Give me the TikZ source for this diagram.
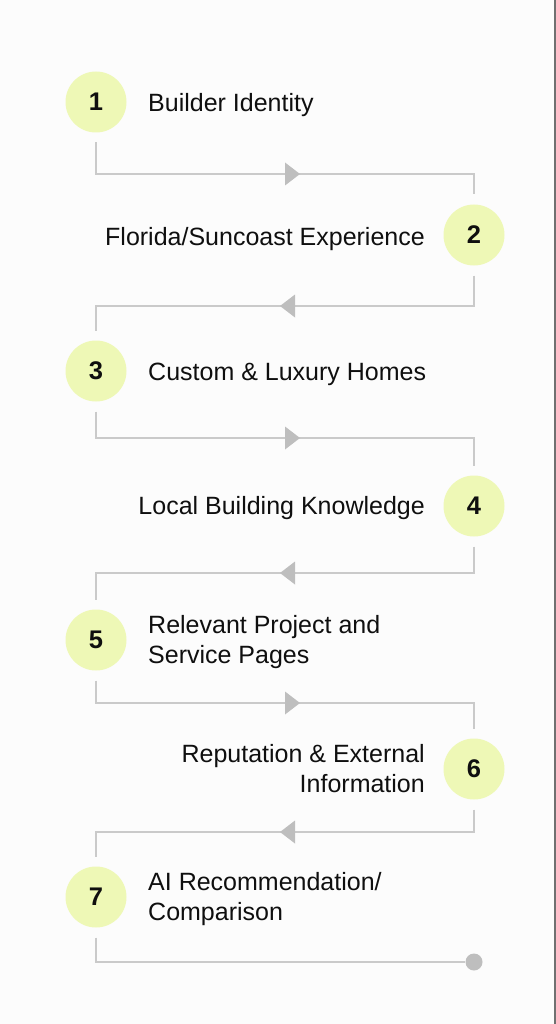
\documentclass[tikz,border=0pt]{standalone}
\usepackage{fontspec}
\setmainfont{Liberation Sans}
\definecolor{circfill}{RGB}{238,248,182}
\definecolor{linegray}{RGB}{202,202,202}
\definecolor{tipgray}{RGB}{190,190,190}
\definecolor{ink}{RGB}{15,15,15}
\definecolor{bgpaper}{RGB}{252,252,252}
\definecolor{edgegray}{RGB}{112,112,112}
\begin{document}
\begin{tikzpicture}[x=1pt,y=-1pt,
  stepcirc/.style={circle,fill=circfill,minimum size=61pt,inner sep=0pt,outer sep=10pt,
    font=\fontsize{25.5}{28}\selectfont\bfseries,text=ink},
  lbl/.style={inner sep=0pt,font=\fontsize{25}{30}\selectfont,text=ink,align=left},
  rlbl/.style={inner sep=0pt,font=\fontsize{25}{30}\selectfont,text=ink,align=right},
  conn/.style={draw=linegray,line width=1.8pt},
  tipfill/.style={fill=tipgray},
  enddot/.style={circle,fill=tipgray,minimum size=17pt,inner sep=0pt}]
\useasboundingbox (0,0) rectangle (556,1024);
\fill[bgpaper] (0,0) rectangle (556,1024);
\draw[edgegray,line width=1.6pt] (555.2,0) -- (555.2,1024);

% row levels
\coordinate (h1) at (0,174);
\coordinate (h2) at (0,306);
\coordinate (h3) at (0,438);
\coordinate (h4) at (0,573);
\coordinate (h5) at (0,703);
\coordinate (h6) at (0,832);
\coordinate (h7) at (0,962);

% circles
\node[stepcirc] (n1) at (96,102) {1};
\node[stepcirc] (n2) at (474,235) {2};
\node[stepcirc] (n3) at (96,371) {3};
\node[stepcirc] (n4) at (474,506) {4};
\node[stepcirc] (n5) at (96,640) {5};
\node[stepcirc] (n6) at (474,769) {6};
\node[stepcirc] (n7) at (96,897) {7};
\node[enddot] (end) at (474,962) {};

% labels
\node[lbl,anchor=base west] (t1) at (148,112) {Builder Identity};
\node[rlbl,anchor=base east] (t2) at (425,245) {Florida/Suncoast Experience};
\node[lbl,anchor=base west] (t3) at (148,380) {Custom \& Luxury Homes};
\node[rlbl,anchor=base east] (t4) at (425,514) {Local Building Knowledge};
\node[lbl,anchor=north west] (t5) at (148,615) {Relevant Project and\\Service Pages};
\node[rlbl,anchor=north east] (t6) at (425,744) {Reputation \& External\\Information};
\node[lbl,anchor=north west] (t7) at (148,872) {AI Recommendation/\\Comparison};

% connectors
\draw[conn] (n1.south) -- (n1.south |- h1) -| (n2.north);
\draw[conn] (n2.south) -- (n2.south |- h2) -| (n3.north);
\draw[conn] (n3.south) -- (n3.south |- h3) -| (n4.north);
\draw[conn] (n4.south) -- (n4.south |- h4) -| (n5.north);
\draw[conn] (n5.south) -- (n5.south |- h5) -| (n6.north);
\draw[conn] (n6.south) -- (n6.south |- h6) -| (n7.north);
\draw[conn] (n7.south) -- (n7.south |- h7) -- (end);

% direction marks
\fill[tipfill] (285,162.5) -- (300,174) -- (285,185.5) -- cycle;
\fill[tipfill] (295,294.5) -- (280,306) -- (295,317.5) -- cycle;
\fill[tipfill] (285,426.5) -- (300,438) -- (285,449.5) -- cycle;
\fill[tipfill] (295,561.5) -- (280,573) -- (295,584.5) -- cycle;
\fill[tipfill] (285,691.5) -- (300,703) -- (285,714.5) -- cycle;
\fill[tipfill] (295,820.5) -- (280,832) -- (295,843.5) -- cycle;
\end{tikzpicture}
\end{document}
